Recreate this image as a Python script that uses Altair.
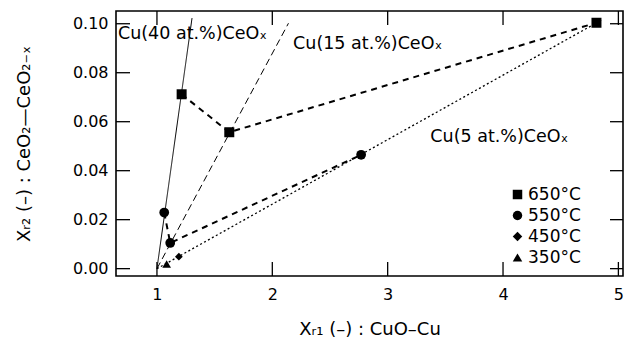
import altair as alt
import pandas as pd

FONT = "DejaVu Sans"

# ---- data ----
temps = ["650°C", "550°C", "450°C", "350°C"]
shapes = ["square", "circle", "diamond", "triangle-up"]
marker_size = [100, 95, 60, 75]

sq_x = [1.214, 1.627, 4.81]
sq_y = [0.0712, 0.0557, 0.1004]
ci_x = [1.063, 1.115, 2.77]
ci_y = [0.0229, 0.0105, 0.0465]
di_x = [1.19]
di_y = [0.0049]
tr_x = [1.084]
tr_y = [0.0019]

cu40_x = [1.0, 1.304]
cu40_y = [0.0, 0.1023]
cu15_x = [1.0, 2.14]
cu15_y = [0.0, 0.1002]
cu5_x = [1.0, 4.85]
cu5_y = [0.0, 0.1014]

x_ticks = [1, 2, 3, 4, 5]
y_ticks = [0.0, 0.02, 0.04, 0.06, 0.08, 0.10]

label_text = ["Cu(40 at.%)CeOₓ", "Cu(15 at.%)CeOₓ", "Cu(5 at.%)CeOₓ"]
label_x = [0.662, 2.18, 3.37]
label_y = [0.0958, 0.0917, 0.0536]

W, H = 507, 265

xs = alt.Scale(domain=[0.645, 5.04], nice=False, zero=False)
ys = alt.Scale(domain=[-0.003, 0.1052], nice=False, zero=False)
shape_scale = alt.Scale(domain=temps, range=shapes)

xax = alt.Axis(values=x_ticks, format="d", ticks=False, domain=False, grid=False,
               labelFont=FONT, labelFontSize=16, labelColor="black", labelPadding=10,
               title="Xᵣ₁ (–) : CuO–Cu", titleFont=FONT, titleFontSize=18,
               titleFontWeight="normal", titleColor="black", titlePadding=18)
yax = alt.Axis(values=y_ticks, format=".2f", ticks=False, domain=False, grid=False,
               labelFont=FONT, labelFontSize=16, labelColor="black", labelPadding=8,
               title="Xᵣ₂ (–) : CeO₂—CeO₂₋ₓ", titleFont=FONT, titleFontSize=18,
               titleFontWeight="normal", titleColor="black", titlePadding=39)


def line(xv, yv, dash, width):
    df = pd.DataFrame({"x": xv, "y": yv, "o": list(range(len(xv)))})
    return alt.Chart(df).mark_line(color="black", strokeDash=dash, strokeWidth=width).encode(
        x=alt.X("x:Q", scale=xs, axis=xax),
        y=alt.Y("y:Q", scale=ys, axis=yax),
        order="o:Q",
    )


l40 = line(cu40_x, cu40_y, [1, 0], 1)
l15 = line(cu15_x, cu15_y, [7, 4], 1)
l5 = line(cu5_x, cu5_y, [2, 2.5], 1.3)
l650 = line(sq_x, sq_y, [6, 5], 2)
l550 = line(ci_x, ci_y, [6, 5], 2)

legend = alt.Legend(title=None, orient="none", legendX=393, legendY=175,
                    labelFont=FONT, labelFontSize=17, labelColor="black",
                    symbolSize=90, symbolFillColor="black", symbolStrokeColor="black",
                    symbolStrokeWidth=0, rowPadding=3, labelOffset=2)

point_layers = []
for t, xv, yv, s in zip(temps, [sq_x, ci_x, di_x, tr_x], [sq_y, ci_y, di_y, tr_y], marker_size):
    df = pd.DataFrame({"temp": [t] * len(xv), "x": xv, "y": yv})
    point_layers.append(
        alt.Chart(df).mark_point(filled=True, opacity=1, color="black", size=s).encode(
            x=alt.X("x:Q", scale=xs),
            y=alt.Y("y:Q", scale=ys),
            shape=alt.Shape("temp:N", scale=shape_scale, legend=legend),
        )
    )

labels = alt.Chart(pd.DataFrame({"t": label_text, "x": label_x, "y": label_y})).mark_text(
    font=FONT, fontSize=17.5, align="left", baseline="middle", color="black"
).encode(x=alt.X("x:Q", scale=xs), y=alt.Y("y:Q", scale=ys), text="t:N")

xt = pd.DataFrame({"x": x_ticks})
yt = pd.DataFrame({"y": y_ticks})
tick_bot = alt.Chart(xt).mark_rule(color="black", strokeWidth=1.3).encode(
    x=alt.X("x:Q", scale=xs), y=alt.value(H), y2=alt.value(H - 14))
tick_top = alt.Chart(xt).mark_rule(color="black", strokeWidth=1.3).encode(
    x=alt.X("x:Q", scale=xs), y=alt.value(0), y2=alt.value(14))
tick_left = alt.Chart(yt).mark_rule(color="black", strokeWidth=1.3).encode(
    y=alt.Y("y:Q", scale=ys), x=alt.value(0), x2=alt.value(14))
tick_right = alt.Chart(yt).mark_rule(color="black", strokeWidth=1.3).encode(
    y=alt.Y("y:Q", scale=ys), x=alt.value(W), x2=alt.value(W - 13))

chart = alt.layer(
    l40, l15, l5, l650, l550, tick_bot, tick_top, tick_left, tick_right, labels, *point_layers
).properties(
    width=W, height=H, autosize=alt.AutoSizeParams(type="none"),
    padding={"left": 116, "top": 11, "right": 2, "bottom": 62},
    background="white",
).configure_view(stroke="black", strokeWidth=1.6)

chart.save("out.html", embed_options={"renderer": "svg", "actions": False})
